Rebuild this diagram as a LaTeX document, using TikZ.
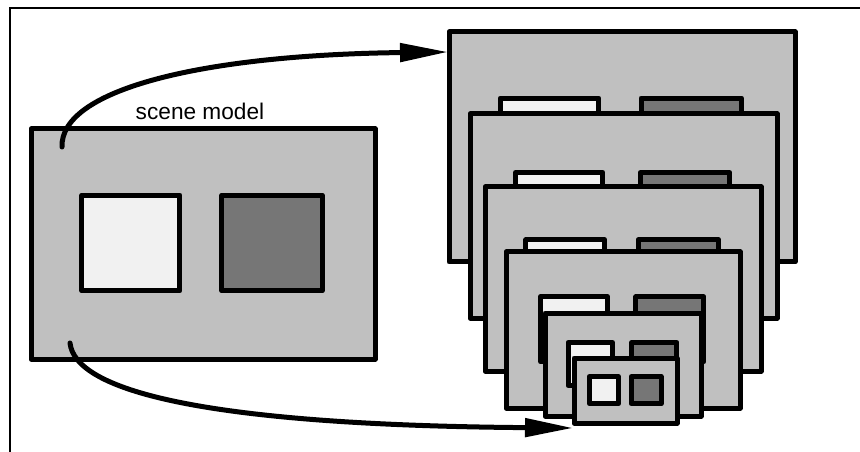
\documentclass[tikz,border=0pt]{standalone}
\usepackage{fontspec}
\setmainfont{Liberation Sans}
\usetikzlibrary{arrows.meta}
\definecolor{myGray}{RGB}{192,192,192}
\definecolor{myLight}{RGB}{241,241,241}
\definecolor{myDark}{RGB}{118,118,118}
\tikzset{
    box/.style={draw,line width=3.75pt,line join=round},
    flow/.style={line width=3.75pt,line cap=round,-{Triangle[length=36pt,width=13.5pt]}},
}
\begin{document}
\begin{tikzpicture}[%
        x=0.75pt,y=-0.75pt,
        every node/.style={
            font=\fontsize{17}{20}\selectfont,
        },
    ]
    \useasboundingbox (0,0) rectangle (860,452);
    % draw outer frame lines
    \draw[line width=1.5pt] (10,452) -- (10,8) -- (860,8);

    % scene model first, then the smaller copies on top of each other
    \foreach \x/\y/\w/\h in {31/129/344/230, 449/32/346/230, 470/114/307/204,
            485/187/276/184, 506/252/234/156, 545/313/156/103, 574/358/103/65}{
        \draw[box,fill=myGray] (\x,\y) rectangle ++(\w,\h);
        \draw[box,fill=myLight] (\x+0.148*\w,\y+0.287*\h) rectangle (\x+0.433*\w,\y+0.704*\h);
        \draw[box,fill=myDark] (\x+0.555*\w,\y+0.287*\h) rectangle (\x+0.846*\w,\y+0.704*\h);
    }

    % place the label
    \node[anchor=base] (label) at (200,120) {scene model};

    % arrow ends
    \coordinate (sceneTop) at (62,147);
    \coordinate (sceneLow) at (70,343);
    \coordinate (bigFrame) at (448,52);
    \coordinate (smallFrame) at (573,428);

    % draw arrows
    \draw[flow] (sceneTop) .. controls (60,90) and (200,55) .. (bigFrame);
    \draw[flow] (sceneLow) .. controls (75,390) and (200,425) .. (smallFrame);
\end{tikzpicture}
\end{document}
